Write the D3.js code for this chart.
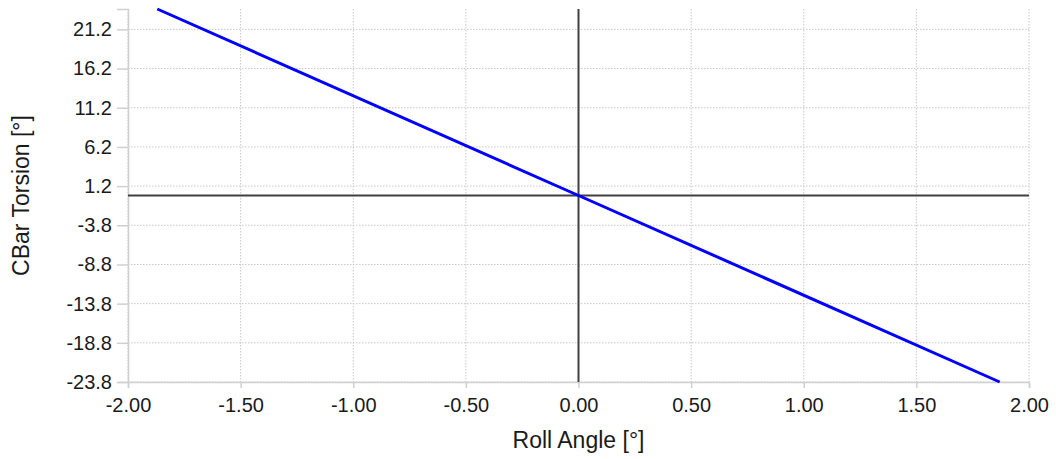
<!DOCTYPE html>
<html>
<head>
<meta charset="utf-8">
<script src="https://cdn.jsdelivr.net/npm/d3@7"></script>
<style>
  body { margin: 0; background: #fff; }
  text { font-family: "Liberation Sans", Arial, sans-serif; fill: #1a1a1a; }
</style>
</head>
<body>
<svg id="chart" width="1056" height="459"></svg>
<script>
    "use strict";

    // data
    const rollAngle = [-1.87, 0, 1.87];
    const cbarTorsion = [23.8, 0, -23.8];
    const xTicks = [-2, -1.5, -1, -0.5, 0, 0.5, 1, 1.5, 2];
    const yTicks = [21.2, 16.2, 11.2, 6.2, 1.2, -3.8, -8.8, -13.8, -18.8, -23.8];

    const width = 1056, height = 459;
    const margin = {top: 9, right: 27, bottom: 77, left: 128};
    const fontFamily = "'Liberation Sans', Arial, sans-serif";

    const svg = d3.select("#chart");

    const x = d3.scaleLinear()
        .domain([-2, 2])
        .range([margin.left, width - margin.right]);
    const y = d3.scaleLinear()
        .domain([-23.8, 23.8])
        .range([height - margin.bottom, margin.top]);

    // plain hyphen for negatives, like the original
    const fmt = (spec) => (d) => d3.format(spec)(d).replace("\u2212", "-");

    // dotted grid
    const grid = svg.append("g").attr("class", "grid")
        .attr("stroke", "#c8c8c8")
        .attr("stroke-dasharray", "1.5,1.5");
    grid.selectAll("line.v")
        .data(xTicks)
        .join("line")
        .attr("class", "v")
        .attr("x1", d => x(d)).attr("x2", d => x(d))
        .attr("y1", margin.top).attr("y2", height - margin.bottom);
    grid.selectAll("line.h")
        .data(yTicks)
        .join("line")
        .attr("class", "h")
        .attr("x1", margin.left).attr("x2", width - margin.right)
        .attr("y1", d => y(d)).attr("y2", d => y(d));

    // axes
    const xAxis = svg.append("g")
        .attr("transform", `translate(0,${height - margin.bottom})`)
        .call(d3.axisBottom(x).tickValues(xTicks).tickFormat(fmt(".2f")).tickSize(6).tickPadding(10));
    const yAxis = svg.append("g")
        .attr("transform", `translate(${margin.left},0)`)
        .call(d3.axisLeft(y).tickValues(yTicks).tickFormat(fmt(".1f")).tickSize(11).tickPadding(5));

    [xAxis, yAxis].forEach(ax => {
        ax.select(".domain").attr("stroke", "#d0d0d0").attr("stroke-width", 1.5);
        ax.selectAll(".tick line").attr("stroke", "#d0d0d0").attr("stroke-width", 1.5);
        ax.selectAll(".tick text")
            .attr("font-family", fontFamily)
            .attr("font-size", 20)
            .attr("fill", "#1a1a1a");
    });

    // zero lines
    svg.append("line")
        .attr("x1", x(0)).attr("x2", x(0))
        .attr("y1", margin.top).attr("y2", height - margin.bottom)
        .attr("stroke", "#404040").attr("stroke-width", 2);
    svg.append("line")
        .attr("x1", margin.left).attr("x2", width - margin.right)
        .attr("y1", y(0)).attr("y2", y(0))
        .attr("stroke", "#404040").attr("stroke-width", 2);

    // series
    const points = rollAngle.map((d, i) => [d, cbarTorsion[i]]);
    svg.append("path")
        .datum(points)
        .attr("fill", "none")
        .attr("stroke", "#0000ff")
        .attr("stroke-width", 3)
        .attr("d", d3.line().x(d => x(d[0])).y(d => y(d[1])));

    // axis titles
    svg.append("text")
        .attr("x", x(0)).attr("y", 448)
        .attr("text-anchor", "middle")
        .attr("font-size", 23)
        .text("Roll Angle [°]");
    svg.append("text")
        .attr("transform", `translate(29,${y(0)}) rotate(-90)`)
        .attr("text-anchor", "middle")
        .attr("font-size", 23)
        .text("CBar Torsion [°]");
</script>
</body>
</html>
